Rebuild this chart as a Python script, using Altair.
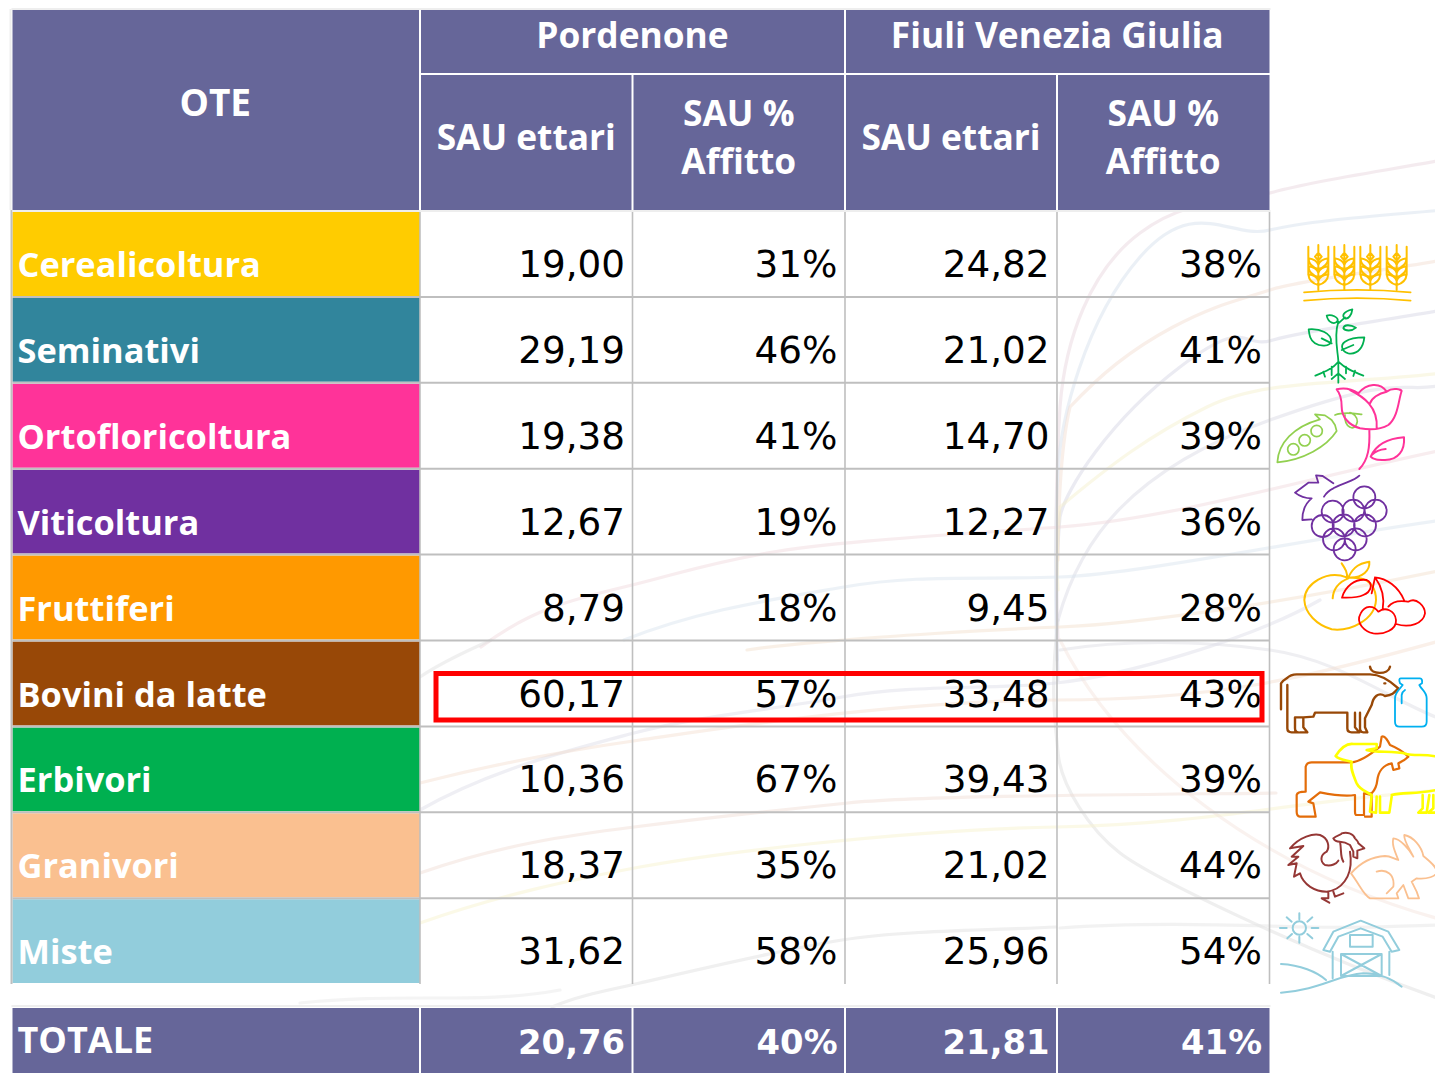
import altair as alt
import pandas as pd

# ---------- chart values ----------
rows = ["Cerealicoltura", "Seminativi", "Ortofloricoltura", "Viticoltura", "Fruttiferi",
        "Bovini da latte", "Erbivori", "Granivori", "Miste"]
sau_pn = [19.00, 29.19, 19.38, 12.67, 8.79, 60.17, 10.36, 18.37, 31.62]
aff_pn = [31, 46, 41, 19, 18, 57, 67, 35, 58]
sau_fvg = [24.82, 21.02, 14.70, 12.27, 9.45, 33.48, 39.43, 21.02, 25.96]
aff_fvg = [38, 41, 39, 36, 28, 43, 39, 44, 54]
totals = [20.76, 40, 21.81, 41]
total_label = "TOTALE"
row_colors = ["#FFCC00", "#31859C", "#FF3399", "#7030A0", "#FF9900", "#984807", "#00B050", "#FAC090", "#92CDDC"]

# ---------- layout ----------
W, H = 1443, 1081
M = 8
HEAD = "#666699"
GRID = "#BFBFBF"
NUM_FONT = "DejaVu Sans"
LAB_FONT = "Open Sans"
col_edges = [12.5, 420, 632.5, 845, 1057, 1269.5]
row_top = 211
row_h = 85.9
row_edges = [row_top + row_h * i for i in range(len(rows) + 1)]
head_y = [10, 74, 210]
total_y = [1008, 1081]

sx = alt.Scale(domain=[M, W - M], range=[0, W - 2 * M], nice=False, zero=False)
sy = alt.Scale(domain=[H - M, M], nice=False, zero=False)
X = lambda f: alt.X(f, type="quantitative", scale=sx, axis=None)
Y = lambda f: alt.Y(f, type="quantitative", scale=sy, axis=None)


def rects(df, **kw):
    return alt.Chart(df).mark_rect(**kw).encode(x=X("x"), x2="x2", y=Y("y"), y2="y2")


def texts(df, font, **kw):
    return alt.Chart(df).mark_text(font=font, baseline="alphabetic", **kw).encode(x=X("x"), y=Y("y"), text="t:N")


def rules(df, color, width):
    return alt.Chart(df).mark_rule(color=color, strokeWidth=width).encode(x=X("x"), x2="x2", y=Y("y"), y2="y2")


def circle(x, y, r):
    return f"M{x-r},{y}a{r},{r} 0 1,0 {2*r},0a{r},{r} 0 1,0 {-2*r},0"


def icon(path, color, ox, oy, width=2.0, opacity=1.0, scale=1 / 3):
    df = pd.DataFrame({"x": [ox], "y": [oy]})
    return alt.Chart(df).mark_point(shape=path, filled=False, stroke=color, strokeWidth=width, opacity=opacity,
                                    size=4 * scale * scale, strokeCap="round", strokeJoin="round", clip=True).encode(
        x=X("x"), y=Y("y"))


# ---------- faint background ribbons ----------
ribbons = [
    ("#E8D4DC", "M1058,640C1055,560 1056,470 1060,407C1065,340 1090,270 1140,233S1230,205 1270,193S1390,170 1443,160"),
    ("#D4E0EC", "M1057,660C1055,600 1055,530 1058,473C1060,420 1085,320 1140,257S1230,240 1270,230S1390,215 1443,210"),
    ("#D4D4E4", "M1058,680C1056,620 1056,560 1060,517C1065,490 1110,420 1180,367S1240,350 1273,340S1390,320 1443,310"),
    ("#F2DCD0", "M1058,560C1058,500 1062,440 1070,407C1100,375 1130,350 1173,327S1240,300 1270,290S1390,270 1443,260"),
    ("#F6F0CC", "M1058,590C1056,560 1058,530 1060,507C1110,465 1150,435 1207,407S1340,385 1443,373"),
    ("#DCDCDC", "M1058,620C1050,690 1055,720 1058,753S1090,830 1120,853S1300,950 1443,1000"),
    ("#D8D8E4", "M1058,620C1080,540 1130,470 1270,420S1400,395 1443,385"),
    ("#DCDCE4", "M1060,650C1120,640 1200,640 1270,650S1390,700 1443,720"),
    ("#E4E4E4", "M1060,928C1140,922 1230,925 1307,927S1400,925 1443,925"),
    ("#F0D8DC", "M481,647C530,610 570,600 624,587S700,565 767,553S950,535 1060,527S1300,480 1443,450"),
    ("#D8E4EE", "M624,640C700,610 770,600 844,587S980,580 1060,577S1300,540 1443,520"),
    ("#F2E0CC", "M747,650C780,645 810,643 844,640S980,630 1060,627S1300,600 1443,570"),
    ("#DCDCE8", "M420,810C490,770 570,750 634,733S770,710 842,697S990,690 1056,683S1250,640 1320,600"),
    ("#F4DED0", "M420,783C490,765 570,750 640,740S900,700 1056,700S1300,680 1443,640"),
    ("#DEDEDE", "M552,1007C580,995 610,990 640,983S780,950 842,940S1000,930 1056,927"),
    ("#F8F2CC", "M420,923C500,895 570,880 640,867S900,830 1056,827S1300,800 1443,790"),
    ("#F0DCD4", "M420,873C500,845 570,835 634,827S780,810 848,803S1100,795 1276,793"),
    ("#E0E0E0", "M420,677C445,660 470,650 491,640"),
    ("#F4E4DC", "M1060,640C1120,760 1260,870 1443,920"),
    ("#E8E8E8", "M300,1003C400,992 480,1005 560,990"),
]
bg = [icon(p, c, 0, 0, width=3.2, opacity=0.45, scale=1) for c, p in ribbons]

# ---------- table fills ----------
head_rects = pd.DataFrame([
    dict(x=col_edges[0], x2=col_edges[1] - 1, y=head_y[0], y2=head_y[2]),
    dict(x=col_edges[1] + 1, x2=col_edges[3] - 1, y=head_y[0], y2=head_y[1] - 1),
    dict(x=col_edges[3] + 1, x2=col_edges[5], y=head_y[0], y2=head_y[1] - 1),
    *[dict(x=col_edges[i] + 1, x2=col_edges[i + 1] - 1 if i < 4 else col_edges[5], y=head_y[1] + 1, y2=head_y[2])
      for i in range(1, 5)],
    *[dict(x=col_edges[i] + (1 if i else 0), x2=col_edges[i + 1] - 1 if i < 4 else col_edges[5],
           y=total_y[0], y2=total_y[1] - M) for i in range(5)],
])
row_rects = pd.DataFrame([
    dict(x=col_edges[0], x2=col_edges[1], y=row_edges[i] + 1, y2=row_edges[i + 1] - 1, c=row_colors[i])
    for i in range(len(rows))
])
row_layer = alt.Chart(row_rects).mark_rect().encode(
    x=X("x"), x2="x2", y=Y("y"), y2="y2", color=alt.Color("c:N", scale=None))

# ---------- grid ----------
h_lines = pd.DataFrame([dict(x=col_edges[0], x2=col_edges[5], y=e, y2=e) for e in row_edges[1:-1]])
v_lines = pd.DataFrame([dict(x=e, x2=e, y=head_y[2] + 2, y2=row_edges[-1]) for e in col_edges[1:]])
left_line = pd.DataFrame([dict(x=col_edges[0] - 1, x2=col_edges[0] - 1, y=head_y[2], y2=row_edges[-1])])
head_edge = pd.DataFrame([dict(x=col_edges[0] - 1, x2=col_edges[5] + 1, y=head_y[0] - 1, y2=head_y[0] - 1),
                          dict(x=col_edges[0] - 2, x2=col_edges[0] - 2, y=head_y[0] - 1, y2=head_y[2]),
                          dict(x=col_edges[0], x2=col_edges[5] + 1, y=head_y[2] + 1, y2=head_y[2] + 1),
                          dict(x=col_edges[0] - 1, x2=col_edges[5] + 1, y=total_y[0] - 2, y2=total_y[0] - 2)])

# ---------- text ----------
fmt = lambda v: f"{v:.2f}".replace(".", ",")
pct = lambda v: f"{v}%"
cells = []
for i in range(len(rows)):
    for j, t in enumerate([fmt(sau_pn[i]), pct(aff_pn[i]), fmt(sau_fvg[i]), pct(aff_fvg[i])]):
        cells.append(dict(x=col_edges[j + 2] - 7.5, y=row_edges[i] + 66, t=t))
cells = pd.DataFrame(cells)
labels = pd.DataFrame([dict(x=col_edges[0] + 5, y=row_edges[i] + 66, t=rows[i]) for i in range(len(rows))])
tot_cells = pd.DataFrame([dict(x=col_edges[j + 2] - 7.5, y=total_y[0] + 46,
                               t=(fmt(v) if j % 2 == 0 else pct(v))) for j, v in enumerate(totals)])
tot_label = pd.DataFrame([dict(x=col_edges[0] + 5, y=total_y[0] + 45, t=total_label)])
mid = lambda a, b: (a + b) / 2
ote = pd.DataFrame([dict(x=mid(col_edges[0], col_edges[1]) - 1, y=116, t="OTE")])
heads = pd.DataFrame([
    dict(x=mid(col_edges[1], col_edges[3]), y=47.5, t="Pordenone"),
    dict(x=mid(col_edges[3], col_edges[5]), y=47.5, t="Fiuli Venezia Giulia"),
    dict(x=mid(col_edges[1], col_edges[2]), y=150, t="SAU ettari"),
    dict(x=mid(col_edges[3], col_edges[4]), y=150, t="SAU ettari"),
    dict(x=mid(col_edges[2], col_edges[3]), y=126, t="SAU %"),
    dict(x=mid(col_edges[4], col_edges[5]), y=126, t="SAU %"),
    dict(x=mid(col_edges[2], col_edges[3]), y=174, t="Affitto"),
    dict(x=mid(col_edges[4], col_edges[5]), y=174, t="Affitto"),
])
box = pd.DataFrame([dict(x=436, x2=1262, y=673.5, y2=720)])

# ---------- icons, drawn in 3x crop units ----------
O1, O2, O3 = (1270, 230), (1270, 470), (1270, 730)
kernel_l = "M0,{a}C-15,{b}-28,{c}-30,{d}C-15,{e}-3,{f} 0,{g}"
kernel_r = "M0,{a}C15,{b} 28,{c} 30,{d}C15,{e} 3,{f} 0,{g}"
wheat = "M0,-135V0M-30,-130V-45M30,-130V-45M0,-112L10,-100L0,-88L-10,-100Z"
for dy in [0, -24, -48]:
    args = dict(a=-15 + dy, b=-19 + dy, c=-27 + dy, d=-47 + dy, e=-45 + dy, f=-37 + dy, g=-27 + dy)
    wheat += kernel_l.format(**args) + kernel_r.format(**args)
icons = []
for sx_ in [145, 223, 301, 380]:
    icons.append(icon(wheat, "#FFC000", O1[0] + sx_ / 3, O1[1] + 180 / 3, 2.0))
icons += [
    icon("M102,187Q260,172 422,187M102,212Q260,197 422,212", "#FFC000", *O1, 1.6),
    icon("M205,275C190,320 205,370 205,395V458"
         "M116,298C150,295 185,310 183,335C180,350 150,350 135,340C120,330 118,315 116,298ZM155,325L185,340"
         "M283,322C280,350 265,375 235,370C215,365 210,345 225,335C240,325 265,322 283,322ZM215,360L250,345"
         "M170,257C185,252 205,262 203,272C195,285 175,280 170,257Z"
         "M247,238C245,255 235,268 225,265C215,260 218,245 247,238ZM205,280L225,262"
         "M258,293C245,305 225,303 220,295C222,283 240,283 258,293Z"
         "M205,395C190,415 165,425 136,437M205,395C225,415 250,425 280,437M205,430L185,447M205,430L225,447"
         "M185,410V435M228,410V430M160,425L165,440M255,422L250,438",
         "#00B050", *O1, 1.8),
    icon("M22,697C25,640 70,590 150,568L135,553L165,556L185,570L195,585L200,603C170,650 100,690 22,697Z"
         + circle(70, 658, 17) + circle(104, 631, 17) + circle(140, 603, 17)
         + "M195,555C220,545 250,550 275,553M225,555C220,590 255,610 262,575C262,560 250,550 240,548",
         "#92D050", *O1, 1.7),
    icon("M200,478C230,470 250,480 265,490C290,460 330,455 350,485C370,470 395,480 395,483"
         "C385,510 385,560 355,585C330,600 300,600 270,595C235,585 215,560 215,530C215,510 210,490 200,478Z"
         "M240,480C280,500 325,530 320,595M350,485C325,490 305,505 300,520"
         "M298,600C300,650 295,690 268,717M302,680C320,640 360,625 402,622C405,660 385,690 345,690C325,690 310,690 302,680Z"
         "M305,675C320,660 335,658 347,657", "#FF3399", *O1, 2.0),
    icon("".join(circle(a, b, 33) for a, b in [(283, 82), (188, 125), (250, 122), (317, 122), (158, 168), (221, 166),
                                               (285, 166), (192, 208), (257, 208), (224, 238)])
         + "M190,40L158,18L138,16L145,38L115,38L75,68C90,80 105,85 125,85C100,105 97,130 97,150L125,148"
         "M268,17C250,35 225,35 190,55C170,65 165,75 162,80", "#7030A0", *O2, 1.8),
    icon("M230,322C170,300 105,340 103,390C105,430 140,465 185,478C240,485 315,450 318,390C318,355 300,330 270,325"
         "C255,322 240,325 230,322ZM235,322C255,280 280,280 298,275C300,300 280,325 235,322M215,280C225,295 235,310 230,325"
         "M188,385C190,350 210,335 235,325", "#FFC000", *O2, 2.0),
    icon("M216,383C225,350 255,325 290,330C310,340 305,365 280,375C260,385 235,383 216,383Z"
         "M315,322C335,350 345,380 338,418M315,322C350,325 385,350 402,390M315,322L305,370"
         "M272,430C285,405 310,405 325,425C345,410 375,420 378,450C380,480 340,495 310,490C285,485 255,460 272,430Z"
         "M355,410C375,385 405,395 415,395C440,380 465,410 465,430C460,460 420,475 378,462",
         "#FF0000", *O2, 1.8),
    icon("M33,718V640C40,630 45,628 50,625C60,615 70,613 80,613H300C320,613 345,618 385,655C375,665 370,675 345,678"
         "C325,665 310,680 305,705C295,725 290,735 285,745V772L292,787H280Q270,787 270,775V728"
         "M52,645V775Q52,787 65,787H85Q75,787 75,775V742H100L130,740L135,728H232V775Q232,787 245,787H268L255,772V728"
         "M100,742V772L112,787H90M300,590C303,615 355,615 360,590M343,640h3", "#984807", *O2, 2.4),
    icon("M392,625H450Q458,625 456,640L448,645C455,660 470,665 470,685V755Q470,770 455,770H388Q375,770 375,755V685"
         "C375,665 392,655 398,645L390,640Q385,625 392,625ZM395,700V675Q397,665 405,660", "#00B0F0", *O2, 1.8),
    icon("M107,185V110Q110,97 125,97H245C270,95 300,75 330,50L335,20C345,15 355,35 360,45C385,55 405,70 415,80"
         "C405,90 395,95 385,100L388,115L370,120L365,100C340,105 325,125 322,150C320,170 315,180 305,190L282,190V255H260"
         "Q255,255 255,245V195C225,200 190,195 150,187L115,215L130,220L137,260H90Q80,258 80,245V195Q82,185 107,185Z"
         "M283,190L305,195V260H285", "#E36C09", *O3, 2.2),
    icon("M197,78C215,50 235,40 250,42H320L320,55L290,60C320,70 370,60 410,72C440,80 470,68 519,85"
         "M197,78C205,90 230,90 245,95C240,115 250,135 260,160C270,180 290,185 305,195L300,245L318,248L320,200"
         "M330,200V248H358L365,200M365,195C400,185 450,195 519,175M458,195V235L445,248H470L478,195"
         "M490,195V235L475,248H510L519,230", "#FFFF00", *O3, 2.6),
    icon("M60,355C90,320 130,310 150,315C175,325 180,350 170,365C150,375 150,395 165,405C185,410 200,400 205,392"
         "M60,355L100,348L65,380L85,380L55,405L80,400L72,440L90,430C100,465 135,485 170,485C215,480 245,440 242,385L240,365"
         "M210,335C215,360 210,380 220,395M190,325C200,315 215,315 215,310C230,305 250,310 255,325C260,330 265,335 265,340"
         "L283,355L262,362V385L250,380V365L240,345Q225,335 210,335Q195,335 190,325"
         "M175,485V505L155,505L178,518M190,485L195,500L220,490", "#953735", *O3, 2.0),
    icon("M243,430C265,405 300,380 345,378C360,378 370,385 385,390C375,365 365,345 370,325C390,325 420,360 430,380"
         "C415,350 400,330 403,315C430,320 455,350 460,378C480,395 500,410 500,425C500,440 470,448 440,445L425,455"
         "L440,485L447,505H415L400,465L380,490L385,505H300C280,495 270,465 243,430ZM320,425C350,415 375,435 370,470L350,490",
         "#FAC090", *O3, 1.8),
    icon(circle(88, 594, 20) + "M30,594H50M125,594H145M88,550V568M88,620V638M50,562L65,575M112,575L127,562"
         "M52,625L66,612M112,612L127,625"
         "M160,660L190,605L272,572L355,605L388,660L365,665L338,620L272,595L205,620L180,665Z"
         "M188,665V745M358,665V735M240,615H308V650H240ZM213,672H335V738H213ZM213,672L335,738M335,672L213,738"
         "M33,702C90,705 140,725 168,750M33,788C150,780 200,735 280,730C330,730 370,750 395,770",
         "#92CDDC", *O3, 2.0),
]

layers = bg + [
    rects(head_rects, color=HEAD),
    row_layer,
    rules(h_lines, GRID, 2),
    rules(v_lines, GRID, 1.6),
    rules(left_line, GRID, 2),
    rules(head_edge, "#EEEEEE", 2),
    texts(cells, NUM_FONT, align="right", fontSize=37.3, color="#000000"),
    texts(labels, LAB_FONT, align="left", fontSize=34.4, fontWeight="bold", color="#FFFFFF"),
    texts(tot_cells, NUM_FONT, align="right", fontSize=33.8, fontWeight="bold", color="#FFFFFF"),
    texts(tot_label, LAB_FONT, align="left", fontSize=36, fontWeight="bold", color="#FFFFFF"),
    texts(ote, LAB_FONT, align="center", fontSize=37, fontWeight="bold", color="#FFFFFF"),
    texts(heads, LAB_FONT, align="center", fontSize=35.3, fontWeight="bold", color="#FFFFFF"),
    alt.Chart(box).mark_rect(fill=None, stroke="#FF0000", strokeWidth=5).encode(x=X("x"), x2="x2", y=Y("y"), y2="y2"),
    *icons,
]

chart = alt.layer(*layers).properties(
    width=W - 2 * M, height=H - 2 * M, padding=0, autosize=alt.AutoSizeParams(type="none"),
    background="white").configure_view(stroke=None)

chart.save("out.html", embed_options={"renderer": "svg", "actions": False})
